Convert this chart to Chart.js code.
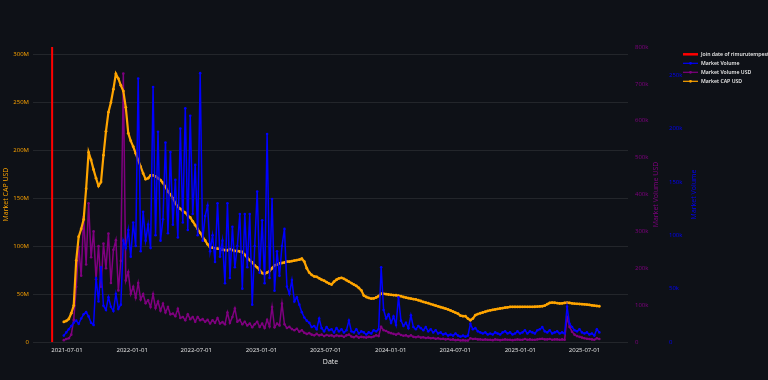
<!DOCTYPE html>
<html>
<head>
<meta charset="utf-8">
<script src="https://cdn.jsdelivr.net/npm/chart.js@4.4.1/dist/chart.umd.min.js"></script>
<style>
  html, body { margin: 0; padding: 0; background: #0e1117; }
  #wrap { width: 768px; height: 380px; }
</style>
</head>
<body>
<div id="wrap"><canvas id="chart" width="768" height="380"></canvas></div>
<script>
// weekly samples, first one on startDay
const startDay = '2021-06-22';
const stepDays = 7;
const joinDate = '2021-05-20';
const xRange = ['2021-03-27', '2025-11-01'];
const xTickDates = ['2021-07-01', '2022-01-01', '2022-07-01', '2023-01-01', '2023-07-01',
  '2024-01-01', '2024-07-01', '2025-01-01', '2025-07-01'];

// axis ticks (M for cap, k for volumes)
const capTicks = [0, 50, 100, 150, 200, 250, 300];
const volUsdTicks = [0, 100, 200, 300, 400, 500, 600, 700, 800];
const volTicks = [0, 50, 100, 150, 200, 250];
const capMax = 308, volUsdMax = 800, volMax = 276.5;

// Market CAP USD (millions)
const capUsd = [
  21, 22, 24, 30, 38, 85, 110, 118, 128, 160,
  198, 190, 180, 171, 163, 167, 195, 220, 240, 250,
  264, 280, 275, 268, 262, 245, 218, 210, 204, 197,
  190, 183, 176, 170, 171, 174, 174, 173, 171, 169,
  166, 162, 157, 154, 150, 145, 141, 139, 137, 135,
  132, 130, 126, 122, 118, 114, 110, 106, 102, 99,
  98.5, 97.8, 97.5, 97, 96.5, 96, 95.8, 97, 96, 95,
  95, 94.5, 94, 91, 88, 85.5, 83, 80, 78, 75,
  72, 71, 72.5, 74, 77, 80, 81, 82, 82.5, 83,
  84, 84, 84.5, 85, 85.5, 86, 87, 84, 77, 72.5,
  70, 68.5, 68, 66.5, 65, 64, 62.5, 61, 60, 63,
  65, 66.5, 67, 66, 64.5, 63, 61.5, 60, 58.5, 56.5,
  54, 48.5, 47, 46, 45.3, 45.5, 46.5, 48, 50.5, 50.3,
  50, 49.6, 49.3, 49, 48.8, 48.3, 47.8, 47, 46.4, 45.8,
  45.3, 44.8, 44.4, 43.6, 42.8, 41.8, 41.2, 40.5, 39.6, 38.8,
  38, 37.2, 36.4, 35.6, 34.8, 34, 33, 31.8, 30.6, 29.5,
  27.5, 27, 26.9, 24.5, 22.7, 24.5, 28, 29.2, 30, 30.8,
  31.6, 32.4, 33.1, 33.6, 34, 34.5, 35, 35.4, 35.8, 36.2,
  36.6, 36.6, 36.6, 36.6, 36.6, 36.7, 36.7, 36.7, 36.7, 36.7,
  36.8, 37, 37.1, 37.3, 38, 39.5, 40.8, 41.2, 41, 40.6,
  40.2, 40.4, 40.8, 41.2, 40.8, 40.4, 40.1, 39.9, 39.7, 39.5,
  39.3, 39.1, 38.7, 38.3, 37.9, 37.6, 37.3
];

// Market Volume (thousands)
const marketVolume = [
  6, 9, 12, 15, 18, 20, 17, 22, 26, 28,
  24, 18, 16, 60, 38, 70, 34, 30, 42, 33,
  29, 45, 31, 35, 95, 88, 105, 80, 112, 90,
  247, 85, 122, 95, 110, 88, 239, 100, 197, 95,
  115, 187, 102, 178, 110, 152, 98, 200, 112, 219,
  105, 212, 120, 166, 100, 252, 95, 118, 128, 85,
  100, 75, 130, 80, 95, 55, 130, 60, 108, 70,
  90, 120, 50, 120, 70, 120, 35, 90, 141, 65,
  114, 55, 195, 60, 134, 48, 85, 62, 90, 106,
  52, 45, 58, 38, 42, 35, 28, 23, 20, 18,
  14, 15, 12, 22, 13, 10, 14, 11, 12, 9,
  13, 10, 12, 9, 11, 20, 10, 9, 12, 8,
  10, 9, 7, 9, 8, 11, 10, 12, 70, 30,
  22, 26, 18, 24, 16, 42, 20, 15, 18, 13,
  25, 14, 12, 15, 13, 11, 14, 10, 12, 9,
  11, 8, 9, 7, 8, 6, 7, 6, 8, 6,
  5, 6, 5, 6, 17, 12, 13, 10, 9, 8,
  9, 7, 8, 7, 9, 8, 7, 9, 10, 8,
  9, 7, 8, 10, 8, 9, 11, 8, 10, 9,
  8, 11, 12, 14, 10, 9, 11, 8, 9, 10,
  8, 9, 8, 33, 17, 14, 11, 10, 12, 9,
  8, 9, 7, 8, 6, 12, 9
];

// Market Volume USD (thousands)
const marketVolumeUsd = [
  5, 8, 10, 20, 60, 150, 258, 180, 339, 210,
  376, 230, 300, 170, 260, 150, 267, 200, 294, 160,
  250, 276, 140, 220, 728, 167, 190, 130, 150, 120,
  160, 115, 130, 105, 113, 95, 130, 92, 110, 85,
  104, 80, 95, 75, 77, 70, 90, 65, 68, 59,
  75, 62, 68, 55, 68, 59, 62, 55, 60, 50,
  59, 52, 65, 50, 54, 48, 80, 52, 68, 91,
  55, 60, 48, 55, 45, 50, 40, 48, 55, 41,
  50, 38, 60, 42, 95, 40, 50, 45, 104, 48,
  38, 41, 35, 32, 36, 28, 32, 25, 22, 24,
  20, 18, 22, 18, 20, 16, 19, 17, 18, 15,
  18, 16, 17, 14, 18, 20, 15, 13, 16, 12,
  14, 13, 12, 14, 13, 15, 18, 16, 41, 32,
  30, 26, 24, 22, 20, 23, 19, 17, 18, 15,
  18, 14, 13, 15, 12, 13, 11, 12, 10, 11,
  9, 10, 8, 9, 7, 8, 6, 7, 5, 6,
  4, 5, 4, 4, 10, 8, 9, 7, 7, 6,
  7, 6, 6, 5, 7, 6, 5, 6, 7, 6,
  6, 5, 6, 7, 6, 6, 8, 6, 7, 6,
  6, 7, 8, 9, 7, 7, 8, 6, 7, 7,
  6, 7, 6, 68, 41, 28, 20, 16, 14, 12,
  10, 9, 8, 7, 6, 10, 8
];

const DAY = 86400000;
const ts = s => Date.parse(s + 'T00:00:00Z');
const t0 = ts(startDay);
const dates = capUsd.map((_, i) => t0 + i * stepDays * DAY);
const toPoints = arr => arr.map((v, i) => ({ x: dates[i], y: v }));

const FONT = '"Open Sans", "Liberation Sans", Arial, sans-serif';
const ORANGE = 'rgb(255,165,0)';
const BLUE = 'rgb(0,0,255)';
const PURPLE = 'rgb(128,0,128)';
const RED = 'rgb(255,0,0)';

const legendItems = [
  { label: 'Join date of rimurutempest', color: RED, marker: false },
  { label: 'Market Volume', color: BLUE, marker: true },
  { label: 'Market Volume USD', color: PURPLE, marker: true },
  { label: 'Market CAP USD', color: ORANGE, marker: true }
];

const extrasPlugin = {
  id: 'extras',
  beforeDraw(chart) {
    const ctx = chart.ctx;
    ctx.save();
    ctx.fillStyle = '#0e1117';
    ctx.fillRect(0, 0, chart.width, chart.height);
    ctx.restore();
  },
  afterDraw(chart) {
    const ctx = chart.ctx;
    const area = chart.chartArea;
    const midY = (area.top + area.bottom) / 2;
    // right axis titles, read bottom to top
    [['y2', 'Market Volume USD', PURPLE], ['y3', 'Market Volume', BLUE]].forEach(([id, text, color]) => {
      const sc = chart.scales[id];
      ctx.save();
      ctx.translate(sc.right - 6, midY);
      ctx.rotate(-Math.PI / 2);
      ctx.font = '7px ' + FONT;
      ctx.fillStyle = color;
      ctx.textAlign = 'center';
      ctx.textBaseline = 'middle';
      ctx.fillText(text, 0, 0);
      ctx.restore();
    });
    // legend
    const lx = area.right + 55;
    ctx.save();
    ctx.font = '600 5.2px ' + FONT;
    ctx.textBaseline = 'middle';
    legendItems.forEach((item, k) => {
      const y = 54.3 + k * 9;
      ctx.strokeStyle = item.color;
      ctx.lineWidth = item.marker ? 1.2 : 2.5;
      ctx.beginPath();
      ctx.moveTo(lx, y);
      ctx.lineTo(lx + 15, y);
      ctx.stroke();
      if (item.marker) {
        ctx.fillStyle = item.color;
        ctx.beginPath();
        ctx.arc(lx + 7.5, y, 1.4, 0, Math.PI * 2);
        ctx.fill();
      }
      ctx.fillStyle = '#f0f0f0';
      ctx.fillText(item.label, lx + 18, y);
    });
    ctx.restore();
  }
};

const fixedTicks = list => scale => { scale.ticks = list.map(v => ({ value: v })); };

new Chart(document.getElementById('chart'), {
  type: 'line',
  data: {
    datasets: [
      {
        label: 'Join date of rimurutempest',
        data: [{ x: ts(joinDate), y: 0 }, { x: ts(joinDate), y: capMax }],
        yAxisID: 'y',
        borderColor: RED,
        borderWidth: 2,
        pointRadius: 0,
        order: 0
      },
      {
        label: 'Market Volume',
        data: toPoints(marketVolume),
        yAxisID: 'y3',
        borderColor: BLUE,
        backgroundColor: BLUE,
        borderWidth: 1.5,
        pointRadius: 1.3,
        pointBorderWidth: 0,
        order: 1
      },
      {
        label: 'Market Volume USD',
        data: toPoints(marketVolumeUsd),
        yAxisID: 'y2',
        borderColor: PURPLE,
        backgroundColor: PURPLE,
        borderWidth: 1.5,
        pointRadius: 1.3,
        pointBorderWidth: 0,
        order: 3
      },
      {
        label: 'Market CAP USD',
        data: toPoints(capUsd),
        yAxisID: 'y',
        borderColor: ORANGE,
        backgroundColor: ORANGE,
        borderWidth: 2.2,
        pointRadius: 1.4,
        pointBorderWidth: 0,
        order: 2
      }
    ]
  },
  options: {
    responsive: false,
    animation: false,
    devicePixelRatio: 1,
    layout: { padding: { top: 47, right: 68, bottom: 0, left: 0 } },
    plugins: { legend: { display: false }, tooltip: { enabled: false } },
    scales: {
      x: {
        type: 'linear',
        min: ts(xRange[0]),
        max: ts(xRange[1]),
        afterBuildTicks: fixedTicks(xTickDates.map(ts)),
        afterFit: s => { s.height = 38; },
        grid: { display: false, drawTicks: false },
        border: { display: false },
        ticks: {
          color: '#e6e6e6',
          font: { family: FONT, size: 6 },
          padding: 5,
          maxRotation: 0,
          autoSkip: false,
          callback: v => new Date(v).toISOString().slice(0, 10)
        },
        title: {
          display: true,
          text: 'Date',
          color: '#e6e6e6',
          font: { family: FONT, size: 7 },
          padding: { top: 0, bottom: 14 }
        }
      },
      y: {
        position: 'left',
        min: 0,
        max: capMax,
        afterBuildTicks: fixedTicks(capTicks),
        afterFit: s => { s.width = 33; },
        grid: { color: 'rgba(255,255,255,0.09)', drawTicks: false },
        border: { display: false },
        ticks: {
          color: ORANGE,
          font: { family: FONT, size: 6 },
          padding: 4,
          callback: v => v === 0 ? '0' : v + 'M'
        },
        title: {
          display: true,
          text: 'Market CAP USD',
          color: ORANGE,
          font: { family: FONT, size: 7 },
          padding: { top: 2, bottom: 0 }
        }
      },
      y2: {
        position: 'right',
        weight: 1,
        min: 0,
        max: volUsdMax,
        afterBuildTicks: fixedTicks(volUsdTicks),
        afterFit: s => { s.width = 34; },
        grid: { display: false, drawTicks: false },
        border: { display: false },
        ticks: {
          color: PURPLE,
          font: { family: FONT, size: 6 },
          padding: 7,
          callback: v => v === 0 ? '0' : v + 'k'
        }
      },
      y3: {
        position: 'right',
        weight: 2,
        min: 0,
        max: volMax,
        afterBuildTicks: fixedTicks(volTicks),
        afterFit: s => { s.width = 38; },
        grid: { display: false, drawTicks: false },
        border: { display: false },
        ticks: {
          color: BLUE,
          font: { family: FONT, size: 6 },
          padding: 7,
          callback: v => v === 0 ? '0' : v + 'k'
        }
      }
    }
  },
  plugins: [extrasPlugin]
});
</script>
</body>
</html>
